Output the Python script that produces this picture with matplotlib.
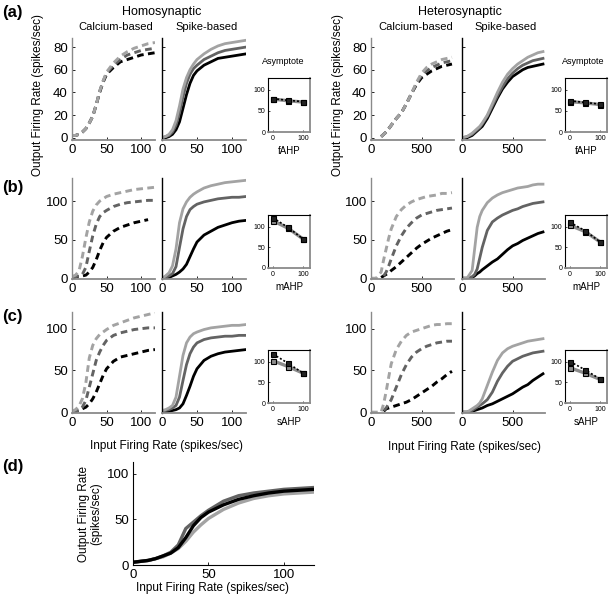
import matplotlib
matplotlib.use("Agg")
import matplotlib.pyplot as plt

plt.rcParams["font.family"] = ["Liberation Sans", "DejaVu Sans"]

nan = float("nan")

# ── Data ──────────────────────────────────────────────────────────────────────
# input rate grids: homosynaptic (0-120) and heterosynaptic (0-800)
homo_x = [0, 5, 10, 15, 20, 25, 30, 35, 40, 45, 50, 60, 70, 80, 90, 100, 110, 120]
het_x = [0, 50, 100, 125, 150, 175, 200, 250, 300, 350, 400, 450, 500, 550, 600, 650, 700, 750, 800]

# row (a) fAHP
a_homo_ca_light = [2, 2, 3, 5, 8, 13, 19, 29, 41, 50, 58, 66, 72, 76, 79, 81, 83, 84]
a_homo_ca_mid = [2, 2, 3, 5, 8, 13, 19, 29, 41, 50, 57, 64, 69, 73, 75, 77, 78, 79]
a_homo_ca_dark = [2, 2, 3, 5, 8, 13, 19, 29, 40, 49, 56, 62, 67, 69, 71, 73, 74, 75]
a_homo_sp_light = [0, 1, 3, 7, 15, 28, 43, 53, 60, 65, 69, 74, 78, 81, 83, 84, 85, 86]
a_homo_sp_mid = [0, 1, 2, 5, 11, 22, 36, 48, 56, 61, 64, 69, 72, 75, 77, 78, 79, 80]
a_homo_sp_dark = [0, 0, 1, 3, 7, 14, 26, 38, 48, 55, 59, 64, 67, 70, 71, 72, 73, 74]
a_het_ca_light = [nan, nan, 1, 3, 5, 8, 11, 17, 22, 30, 39, 49, 57, 62, 65, 67, 69, 70, 71]
a_het_ca_mid = [nan, nan, 1, 3, 5, 8, 11, 17, 22, 30, 39, 48, 55, 59, 62, 64, 66, 67, 68]
a_het_ca_dark = [nan, nan, 1, 3, 5, 8, 11, 17, 22, 30, 39, 47, 53, 56, 59, 61, 63, 64, 65]
a_het_sp_light = [0, 1, 4, 6, 8, 10, 13, 20, 30, 40, 49, 56, 61, 65, 68, 71, 73, 75, 76]
a_het_sp_mid = [0, 1, 3, 5, 7, 9, 12, 19, 28, 37, 45, 52, 57, 61, 64, 66, 68, 69, 70]
a_het_sp_dark = [0, 0, 2, 4, 6, 8, 10, 17, 26, 35, 43, 49, 54, 57, 60, 62, 63, 64, 65]

# row (b) mAHP
b_homo_ca_light = [2, 4, 9, 28, 52, 73, 87, 95, 100, 103, 106, 109, 111, 113, 115, 116, 117, 118]
b_homo_ca_mid = [2, 2, 3, 5, 14, 35, 55, 70, 80, 85, 88, 93, 96, 98, 99, 100, 101, 101]
b_homo_ca_dark = [2, 2, 2, 3, 4, 8, 14, 24, 36, 46, 53, 61, 66, 69, 72, 74, 76, nan]
b_homo_sp_light = [0, 3, 7, 16, 38, 72, 90, 99, 105, 109, 112, 117, 120, 122, 124, 125, 126, 127]
b_homo_sp_mid = [0, 1, 3, 6, 15, 40, 64, 80, 89, 93, 96, 99, 101, 103, 104, 105, 105, 106]
b_homo_sp_dark = [0, 0, 1, 3, 5, 8, 12, 18, 28, 38, 47, 56, 61, 66, 69, 72, 74, 75]
b_het_ca_light = [0, 0, 8, 24, 38, 52, 64, 80, 89, 95, 99, 102, 104, 106, 107, 108, 110, 110, 111]
b_het_ca_mid = [nan, nan, nan, 3, 8, 16, 25, 42, 55, 65, 72, 78, 82, 84, 86, 88, 89, 90, 91]
b_het_ca_dark = [nan, nan, 1, 3, 5, 7, 10, 15, 21, 27, 33, 39, 44, 48, 52, 55, 58, 61, 63]
b_het_sp_light = [0, 0, 10, 38, 66, 80, 88, 98, 104, 108, 111, 113, 115, 117, 118, 119, 121, 122, 122]
b_het_sp_mid = [0, 0, 2, 5, 12, 26, 40, 62, 73, 78, 82, 85, 88, 90, 93, 95, 97, 98, 99]
b_het_sp_dark = [0, 0, 1, 3, 6, 8, 11, 16, 21, 25, 31, 37, 42, 45, 49, 52, 55, 58, 60]

# row (c) sAHP
c_homo_ca_light = [1, 3, 7, 16, 35, 65, 80, 88, 93, 96, 99, 104, 107, 110, 113, 115, 117, 119]
c_homo_ca_mid = [0, 1, 2, 6, 14, 30, 46, 62, 72, 80, 86, 92, 95, 97, 99, 100, 101, 101]
c_homo_ca_dark = [0, 1, 2, 4, 6, 10, 16, 24, 34, 44, 52, 61, 66, 68, 70, 72, 74, 75]
c_homo_sp_light = [2, 3, 5, 8, 18, 43, 68, 83, 90, 94, 96, 99, 101, 102, 103, 104, 104, 105]
c_homo_sp_mid = [1, 2, 3, 5, 8, 18, 38, 57, 70, 78, 83, 87, 89, 90, 91, 91, 92, 92]
c_homo_sp_dark = [0, 0, 1, 2, 3, 5, 10, 20, 31, 43, 52, 62, 67, 70, 72, 73, 74, 75]
c_het_ca_light = [0, 0, 0, 10, 25, 42, 58, 75, 85, 92, 96, 98, 100, 102, 104, 105, 105, 106, 106]
c_het_ca_mid = [nan, nan, nan, 2, 5, 10, 15, 30, 45, 57, 66, 72, 76, 79, 81, 83, 84, 85, 85]
c_het_ca_dark = [nan, nan, nan, 1, 4, 5, 6, 8, 10, 12, 15, 19, 23, 27, 31, 36, 40, 45, 49]
c_het_sp_light = [0, 0, 4, 6, 8, 11, 16, 32, 48, 62, 71, 76, 79, 81, 83, 85, 86, 87, 88]
c_het_sp_mid = [0, 0, 2, 4, 6, 8, 10, 15, 24, 37, 47, 55, 61, 64, 67, 69, 71, 72, 73]
c_het_sp_dark = [0, 0, 1, 2, 3, 4, 5, 8, 10, 13, 16, 19, 22, 26, 30, 33, 38, 42, 46]

# row (d)
d_light = [3, 4, 5, 7, 9, 13, 18, 26, 36, 44, 51, 61, 68, 73, 76, 78, 79, 80]
d_mid = [3, 4, 5, 7, 10, 14, 22, 40, 47, 54, 60, 70, 76, 79, 81, 83, 84, 85]
d_dark = [3, 4, 5, 7, 10, 13, 19, 30, 43, 52, 58, 66, 72, 76, 79, 81, 82, 83]

# asymptote insets (conductance 0, 50, 100 %)
ins_x = [0, 50, 100]
a_homo_ins_dot = [79, 75, 72]
a_homo_ins_solid = [78, 74, 71]
a_het_ins_dot = [74, 70, 66]
a_het_ins_solid = [72, 69, 65]
b_homo_ins_dot = [121, 98, 70]
b_homo_ins_solid = [114, 96, 70]
b_het_ins_dot = [110, 90, 63]
b_het_ins_solid = [103, 88, 63]
c_homo_ins_dot = [118, 96, 72]
c_homo_ins_solid = [102, 88, 72]
c_het_ins_dot = [100, 80, 58]
c_het_ins_solid = [85, 72, 57]

# ── Styling ────────────────────────────────────────────────────────────────────
LIGHT, MID, DARK = "#a3a3a3", "#636363", "#000000"
SPINE_GRAY = "#8a8a8a"
TICK_FS = 9.5
W, H = 609, 597

fig = plt.figure(figsize=(W / 100, H / 100), dpi=100)


def px_axes(x0, x1, y0, y1):
    # pixel box (top-left origin) -> figure axes
    return fig.add_axes([x0 / W, 1 - y1 / H, (x1 - x0) / W, (y1 - y0) / H])


def ftext(x, y, s, **kw):
    kw.setdefault("ha", "center")
    kw.setdefault("va", "center")
    fig.text(x / W, 1 - y / H, s, **kw)


def curve_axes(box, x, curves, dashed, xlim, ylim, yticks, xticks, show_ylab):
    ax = px_axes(*box)
    for y, c in zip(curves, [DARK, MID, LIGHT]):
        if dashed:
            ax.plot(x, y, color=c, lw=2.1, dashes=(2.3, 1.5), solid_capstyle="butt")
        else:
            ax.plot(x, y, color=c, lw=2.0)
    ax.set_xlim(*xlim)
    ax.set_ylim(*ylim)
    ax.set_xticks(xticks)
    ax.set_yticks(yticks)
    ax.spines[["top", "right"]].set_visible(False)
    ax.spines["bottom"].set_color(SPINE_GRAY)
    ax.spines["bottom"].set_linewidth(1.3)
    ax.spines["left"].set_color(SPINE_GRAY if dashed else "black")
    ax.spines["left"].set_linewidth(1.0)
    ax.tick_params(direction="in", length=2.5, width=0.6, labelsize=TICK_FS, pad=3)
    if not show_ylab:
        ax.set_yticklabels([])
    return ax


def inset_axes(box, dot, solid, xlab):
    ax = px_axes(*box)
    ax.plot(ins_x, solid, color="#8c8c8c", lw=2.4, marker="s", ms=3.6,
            mfc="#8c8c8c", mec="black", mew=0.8)
    ax.plot(ins_x, dot, color="black", lw=1.2, ls=(0, (1.2, 1.2)), marker="s",
            ms=3.6, mfc="#222222", mec="black", mew=0.8)
    ax.set_xlim(-17, 123)
    ax.set_ylim(0, 128)
    ax.set_xticks([0, 100])
    ax.set_yticks([0, 50, 100])
    ax.tick_params(direction="in", length=1.5, width=0.5, labelsize=5, pad=2)
    for side in ["left", "top"]:
        ax.spines[side].set_color("black")
    for side in ["right", "bottom"]:
        ax.spines[side].set_color(SPINE_GRAY)
        ax.spines[side].set_linewidth(1.3)
    ax.set_xlabel(xlab, fontsize=7, labelpad=3)
    return ax


rows = {
    "a": dict(y=(38, 140), iy=(78, 132), ylim=(-2, 88), yticks=[0, 20, 40, 60, 80],
              homo=(a_homo_ca_dark, a_homo_ca_mid, a_homo_ca_light,
                    a_homo_sp_dark, a_homo_sp_mid, a_homo_sp_light),
              het=(a_het_ca_dark, a_het_ca_mid, a_het_ca_light,
                   a_het_sp_dark, a_het_sp_mid, a_het_sp_light),
              ins=(a_homo_ins_dot, a_homo_ins_solid, a_het_ins_dot, a_het_ins_solid),
              lab="fAHP"),
    "b": dict(y=(178, 279), iy=(215, 268), ylim=(-1, 130), yticks=[0, 50, 100],
              homo=(b_homo_ca_dark, b_homo_ca_mid, b_homo_ca_light,
                    b_homo_sp_dark, b_homo_sp_mid, b_homo_sp_light),
              het=(b_het_ca_dark, b_het_ca_mid, b_het_ca_light,
                   b_het_sp_dark, b_het_sp_mid, b_het_sp_light),
              ins=(b_homo_ins_dot, b_homo_ins_solid, b_het_ins_dot, b_het_ins_solid),
              lab="mAHP"),
    "c": dict(y=(312, 413), iy=(350, 403), ylim=(-1, 120), yticks=[0, 50, 100],
              homo=(c_homo_ca_dark, c_homo_ca_mid, c_homo_ca_light,
                    c_homo_sp_dark, c_homo_sp_mid, c_homo_sp_light),
              het=(c_het_ca_dark, c_het_ca_mid, c_het_ca_light,
                   c_het_sp_dark, c_het_sp_mid, c_het_sp_light),
              ins=(c_homo_ins_dot, c_homo_ins_solid, c_het_ins_dot, c_het_ins_solid),
              lab="sAHP"),
}

for key, r in rows.items():
    y0, y1 = r["y"]
    h = r["homo"]
    e = r["het"]
    curve_axes((72, 155, y0, y1), homo_x, h[:3], True, (0, 120), r["ylim"], r["yticks"], [0, 50, 100], True)
    curve_axes((162, 246, y0, y1), homo_x, h[3:], False, (0, 120), r["ylim"], r["yticks"], [0, 50, 100], False)
    curve_axes((371, 454, y0, y1), het_x, e[:3], True, (0, 820), r["ylim"], r["yticks"], [0, 500], True)
    curve_axes((462, 545, y0, y1), het_x, e[3:], False, (0, 820), r["ylim"], r["yticks"], [0, 500], False)
    iy0, iy1 = r["iy"]
    inset_axes((268, 310, iy0, iy1), r["ins"][0], r["ins"][1], r["lab"])
    inset_axes((565, 607, iy0, iy1), r["ins"][2], r["ins"][3], r["lab"])

# ── (d) ───────────────────────────────────────────────────────────────────────
axd = px_axes(133, 314, 462, 565)
for y, c in zip([d_light, d_mid, d_dark], [LIGHT, MID, DARK]):
    axd.plot(homo_x, y, color=c, lw=2.4)
axd.set_xlim(0, 120)
axd.set_ylim(0, 113)
axd.set_xticks([0, 50, 100])
axd.set_yticks([0, 50, 100])
axd.spines[["top", "right"]].set_visible(False)
axd.tick_params(direction="in", length=2.5, width=0.6, labelsize=TICK_FS, pad=3)

# ── Text ──────────────────────────────────────────────────────────────────────
for lab, y in [("(a)", 12), ("(b)", 187), ("(c)", 317), ("(d)", 466)]:
    ftext(2, y, lab, ha="left", fontsize=12, fontweight="bold")

ftext(162, 12, "Homosynaptic", fontsize=9)
ftext(460, 12, "Heterosynaptic", fontsize=9)
ftext(116, 27, "Calcium-based", fontsize=8)
ftext(207, 27, "Spike-based", fontsize=8)
ftext(416, 27, "Calcium-based", fontsize=8)
ftext(506, 27, "Spike-based", fontsize=8)
ftext(283, 62, "Asymptote", fontsize=6.5)
ftext(583, 62, "Asymptote", fontsize=6.5)

ftext(38, 95, "Output Firing Rate (spikes/sec)", rotation=90, fontsize=8.5)
ftext(338, 95, "Output Firing Rate (spikes/sec)", rotation=90, fontsize=8.5)
ftext(167, 446, "Input Firing Rate (spikes/sec)", fontsize=8.5)
ftext(465, 447, "Input Firing Rate (spikes/sec)", fontsize=8.5)

ftext(90, 514, "Output Firing Rate\n(spikes/sec)", rotation=90, fontsize=8.5, linespacing=1.1)
ftext(213, 588, "Input Firing Rate (spikes/sec)", fontsize=8.5)

fig.savefig("out.png", dpi=100)
